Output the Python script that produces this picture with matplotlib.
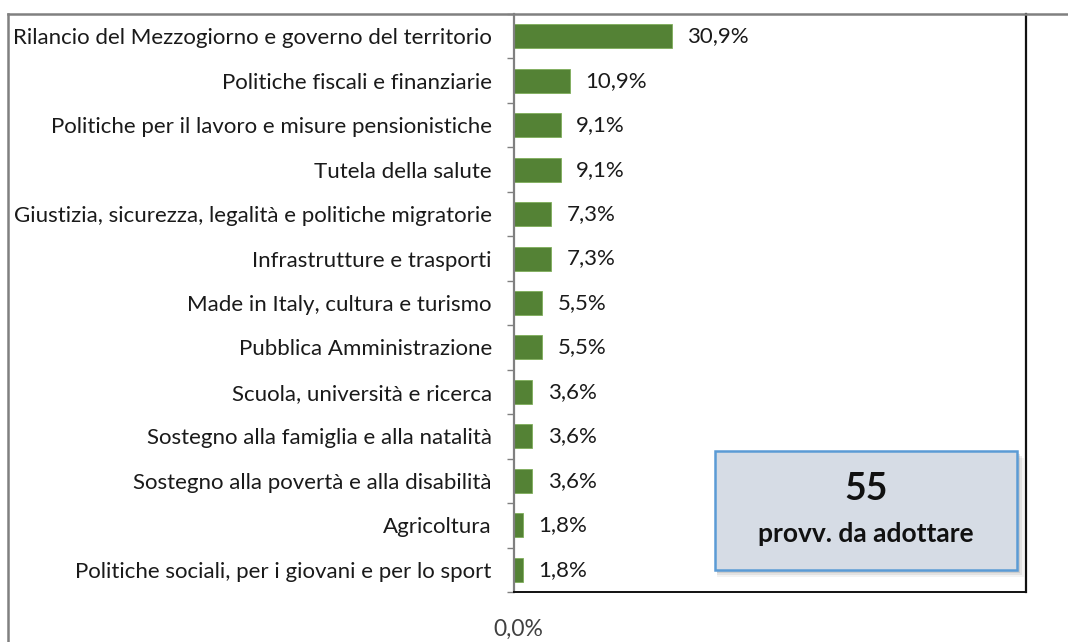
import matplotlib.pyplot as plt
from matplotlib.lines import Line2D
from matplotlib.patches import Rectangle

plt.rcParams['font.family'] = ['Lato', 'DejaVu Sans']

categorie = [
    "Rilancio del Mezzogiorno e governo del territorio",
    "Politiche fiscali e finanziarie",
    "Politiche per il lavoro e misure pensionistiche",
    "Tutela della salute",
    "Giustizia, sicurezza, legalità e politiche migratorie",
    "Infrastrutture e trasporti",
    "Made in Italy, cultura e turismo",
    "Pubblica Amministrazione",
    "Scuola, università e ricerca",
    "Sostegno alla famiglia e alla natalità",
    "Sostegno alla povertà e alla disabilità",
    "Agricoltura",
    "Politiche sociali, per i giovani e per lo sport",
]
quote = [30.9, 10.9, 9.1, 9.1, 7.3, 7.3, 5.5, 5.5, 3.6, 3.6, 3.6, 1.8, 1.8]
etichette = ["30,9%", "10,9%", "9,1%", "9,1%", "7,3%", "7,3%", "5,5%",
             "5,5%", "3,6%", "3,6%", "3,6%", "1,8%", "1,8%"]
totale = "55"
sottotitolo = "provv. da adottare"

W, H = 1068, 642
fig = plt.figure(figsize=(W / 100, H / 100), dpi=100)
ax = fig.add_axes([514 / W, 1 - 592 / H, 512 / W, 578 / H])

y = list(range(len(categorie)))
ax.barh(y, quote, height=0.54, color='#548235', edgecolor='#7fae5a', linewidth=0.6)
for yi, v, t in zip(y, quote, etichette):
    ax.annotate(t, (v, yi), xytext=(11, 0), textcoords='offset points',
                va='center', ha='left', fontsize=16, color='#1a1a1a')

ax.set_xlim(0, 100)
ax.set_ylim(len(categorie) - 0.5, -0.5)
ax.set_yticks(y)
ax.set_yticklabels(categorie, fontsize=16, color='#1a1a1a')
ax.set_yticks([i + 0.5 for i in range(-1, len(categorie))], minor=True)
ax.tick_params(axis='y', which='major', length=0, pad=16)
ax.tick_params(axis='y', which='minor', length=5, color='#808080', width=1)
ax.set_xticks([0.8])
ax.set_xticklabels(["0,0%"], fontsize=16.5, color='#404040')
ax.tick_params(axis='x', length=0, pad=19)

ax.spines['top'].set_visible(False)
ax.spines['left'].set_color('#808080')
ax.spines['left'].set_linewidth(1.6)
ax.spines['right'].set_color('#111111')
ax.spines['right'].set_linewidth(1.6)
ax.spines['bottom'].set_color('#111111')
ax.spines['bottom'].set_linewidth(1.4)

# cornice esterna
fig.add_artist(Line2D([8 / W, 1], [1 - 14 / H, 1 - 14 / H], color='#808080', lw=1.8))
fig.add_artist(Line2D([8 / W, 8 / W], [0, 1 - 14 / H], color='#808080', lw=1.8))

# riquadro con totale
bx0, bx1, by0, by1 = 715, 1017, 451, 570
for k, a in [(7, 0.07), (5, 0.1), (3, 0.15)]:
    fig.add_artist(Rectangle(((bx0 + 2) / W, 1 - (by1 + k) / H), (bx1 - bx0 + k - 2) / W,
                             (by1 - by0) / H, facecolor='#555555', edgecolor='none', alpha=a))
fig.add_artist(Rectangle((bx0 / W, 1 - by1 / H), (bx1 - bx0) / W, (by1 - by0) / H,
                         facecolor='#d6dce5', edgecolor='#5b9bd5', linewidth=1.8))
cx = (bx0 + bx1) / 2 / W
fig.text(cx, 1 - 489 / H, totale, ha='center', va='center', fontsize=27,
         fontweight='bold', color='#111111')
fig.text(cx, 1 - 534 / H, sottotitolo, ha='center', va='center', fontsize=19,
         fontweight='bold', color='#111111')

fig.savefig('out.png', dpi=100)
